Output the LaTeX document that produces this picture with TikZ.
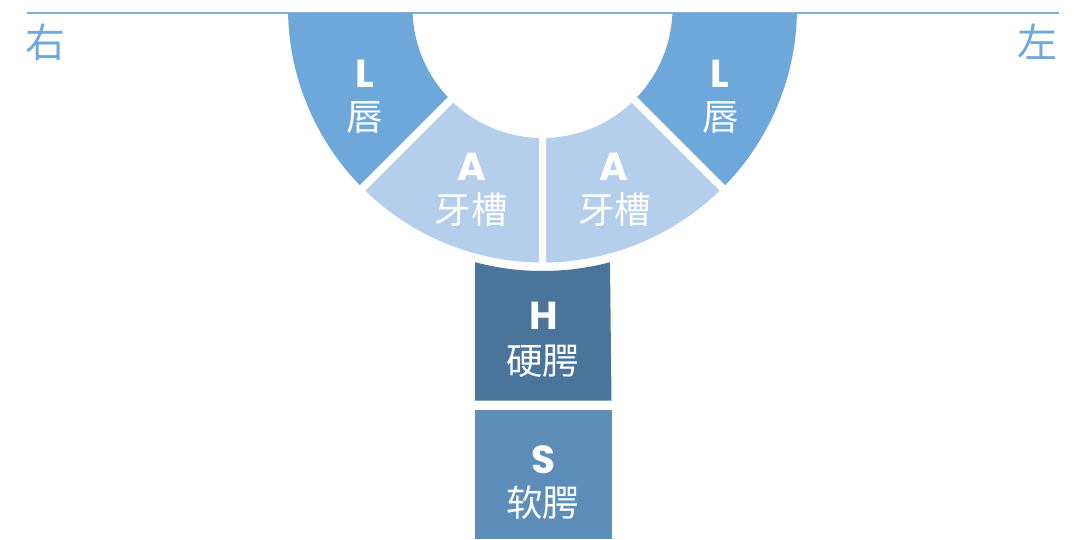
\documentclass[tikz,border=0pt]{standalone}
\usepackage{fontspec}
\usetikzlibrary{calc}
\newfontfamily\cjk{Noto Sans CJK SC}
\newfontfamily\lat{Poppins}
\definecolor{lipcol}{HTML}{6EA8DA}
\definecolor{alvcol}{HTML}{B5CEEB}
\definecolor{hardcol}{HTML}{4A7499}
\definecolor{softcol}{HTML}{5C8EB9}
\definecolor{sidecol}{HTML}{6FA8DC}
\definecolor{linecol}{HTML}{7AAEDC}
\tikzset{
  letter/.style={text=white, inner sep=0pt, anchor=center, font=\lat\bfseries\fontsize{39}{39}\selectfont},
  hanzi/.style={text=white, inner sep=0pt, anchor=center, font=\cjk\fontsize{36.5}{36.5}\selectfont},
  side/.style={text=sidecol, inner sep=0pt, anchor=center, font=\cjk\fontsize{40}{40}\selectfont},
  gap/.style={white, line width=7.5pt},
}
\begin{document}
\begin{tikzpicture}[x=1pt,y=1pt]
\useasboundingbox (0,0) rectangle (1077,-539);
\coordinate (C) at (542.5,-8);
% baseline
\coordinate (l1) at (27,-13);
\coordinate (l2) at (1059,-13);
\draw[linecol, line width=1.3pt] (l1) -- (l2);
% ring sectors
\begin{scope}
\clip (0,-13) rectangle (1077,-600);
\fill[lipcol] ($(C)+(180:254.5)$) arc[start angle=180,end angle=225,radius=254.5]
  -- ($(C)+(225:130)$) arc[start angle=225,end angle=180,radius=130] -- cycle;
\fill[alvcol] ($(C)+(225:254.5)$) arc[start angle=225,end angle=270,radius=254.5]
  -- ($(C)+(270:130)$) arc[start angle=270,end angle=225,radius=130] -- cycle;
\fill[alvcol] ($(C)+(270:254.5)$) arc[start angle=270,end angle=315,radius=254.5]
  -- ($(C)+(315:130)$) arc[start angle=315,end angle=270,radius=130] -- cycle;
\fill[lipcol] ($(C)+(315:254.5)$) arc[start angle=315,end angle=360,radius=254.5]
  -- ($(C)+(360:130)$) arc[start angle=360,end angle=315,radius=130] -- cycle;
\end{scope}
% gaps
\draw[gap] ($(C)+(225:120)$) -- ($(C)+(225:262)$);
\draw[gap] ($(C)+(270:120)$) -- ($(C)+(270:262)$);
\draw[gap] ($(C)+(315:120)$) -- ($(C)+(315:262)$);
% hard palate box
\fill[hardcol] (475,-400.5) -- ($(C)+(255.13:263)$) arc[start angle=255.13,end angle=284.87,radius=263] -- (611.5,-400.5) -- cycle;
% soft palate box
\fill[softcol] (475,-409.5) rectangle (611.5,-539);
% labels
\node[side] (right) at (45,-42.5) {右};
\node[side] (left) at (1037.5,-41.5) {左};
\node[letter] (L1) at (365,-73.7) {L};
\node[hanzi] (L1t) at (364.5,-118) {唇};
\node[letter] (L2) at (720,-73.7) {L};
\node[hanzi] (L2t) at (720.5,-118) {唇};
\node[letter] (A1) at (471.5,-166.5) {A};
\node[hanzi] (A1t) at (471,-210) {牙槽};
\node[letter] (A2) at (614,-166.5) {A};
\node[hanzi] (A2t) at (614.5,-210) {牙槽};
\node[letter] (H) at (543.5,-315.5) {H};
\node[hanzi] (Ht) at (542.5,-361) {硬腭};
\node[letter] (S) at (543,-460) {S};
\node[hanzi] (St) at (542.5,-503) {软腭};
\end{tikzpicture}
\end{document}
